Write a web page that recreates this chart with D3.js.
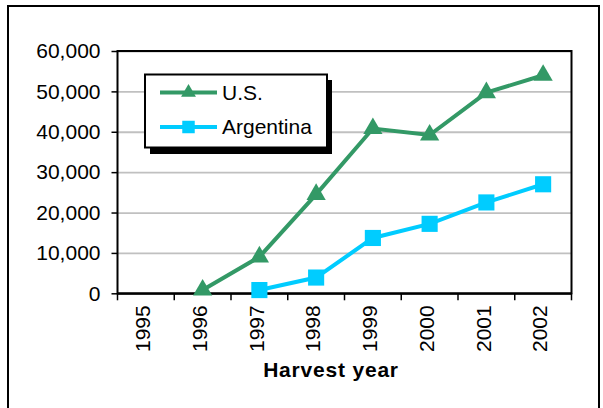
<!DOCTYPE html>
<html>
<head>
<meta charset="utf-8">
<script src="https://cdn.jsdelivr.net/npm/d3@7"></script>
<style>
  body { margin: 0; background: #fff; }
  text { font-family: "Liberation Sans", Arial, sans-serif; }
</style>
</head>
<body>
<div id="chart"></div>
<script>
const years = ["1995", "1996", "1997", "1998", "1999", "2000", "2001", "2002"];
const usValues = [null, 800, 9000, 24500, 40800, 39200, 49700, 54000];
const argentinaValues = [null, null, 800, 3900, 13700, 17200, 22500, 27000];
const seriesNames = ["U.S.", "Argentina"];
const yTicks = [0, 10000, 20000, 30000, 40000, 50000, 60000];

(function() {
  const W = 603, H = 408;
  const plot = { left: 117.5, right: 571.5, top: 51, bottom: 293.3 };
  const colors = { "U.S.": "#339966", "Argentina": "#00ccff" };
  const symbols = { "U.S.": d3.symbolTriangle, "Argentina": d3.symbolSquare };
  const symSize = { "U.S.": 160, "Argentina": 260 };
  const fs = 21;

  const svg = d3.select("#chart").append("svg")
    .attr("width", W)
    .attr("height", H);

  // outer frame
  svg.append("rect")
    .attr("x", 8).attr("y", 6)
    .attr("width", 591).attr("height", 420)
    .attr("fill", "none")
    .attr("stroke", "#000")
    .attr("stroke-width", 2);

  const x = d3.scaleBand().domain(years).range([plot.left, plot.right]).padding(0);
  const y = d3.scaleLinear().domain([0, 60000]).range([plot.bottom, plot.top]);

  // gridlines
  svg.append("g")
    .attr("class", "grid")
    .attr("transform", `translate(${plot.left},0)`)
    .call(d3.axisLeft(y).tickValues(yTicks).tickSize(-(plot.right - plot.left)).tickFormat(""))
    .call(g => g.select(".domain").remove())
    .call(g => g.selectAll("line").attr("stroke", "#c0c0c0").attr("stroke-width", 1.8));

  // plot border
  svg.append("rect")
    .attr("x", plot.left).attr("y", plot.top)
    .attr("width", plot.right - plot.left)
    .attr("height", plot.bottom - plot.top)
    .attr("fill", "none")
    .attr("stroke", "#000")
    .attr("stroke-width", 2);

  // y axis
  svg.append("g")
    .attr("transform", `translate(${plot.left},0)`)
    .call(d3.axisLeft(y).tickValues(yTicks).tickSize(6).tickPadding(11).tickFormat(d3.format(",")))
    .call(g => g.select(".domain").remove())
    .call(g => g.selectAll("line").attr("stroke", "#000").attr("stroke-width", 1.5))
    .call(g => g.selectAll("text").attr("font-size", fs).attr("fill", "#000")
      .attr("font-family", "'Liberation Sans', Arial, sans-serif"));

  // x axis labels
  const xAxis = svg.append("g")
    .attr("transform", `translate(0,${plot.bottom})`)
    .call(d3.axisBottom(x).tickSize(0).tickPadding(0))
    .call(g => g.select(".domain").attr("stroke", "#000").attr("stroke-width", 2));
  xAxis.selectAll(".tick text")
    .attr("font-size", fs)
    .attr("fill", "#000")
    .attr("font-family", "'Liberation Sans', Arial, sans-serif")
    .attr("text-anchor", "end")
    .attr("transform", "translate(-3,12) rotate(-90)")
    .attr("x", 0).attr("y", 0)
    .attr("dy", "0.35em");

  // boundary tick marks between categories
  const bounds = years.map(d => x(d)).concat([x.range()[1]]);
  svg.append("g").selectAll("line")
    .data(bounds)
    .join("line")
      .attr("x1", d => d).attr("x2", d => d)
      .attr("y1", plot.bottom).attr("y2", plot.bottom + 7)
      .attr("stroke", "#000")
      .attr("stroke-width", 1.5);

  // axis title
  svg.append("text")
    .attr("x", 331)
    .attr("y", 377)
    .attr("text-anchor", "middle")
    .attr("font-size", fs)
    .attr("font-weight", "bold")
    .attr("letter-spacing", "0.8px")
    .text("Harvest year");

  const series = [
    { name: "U.S.", values: usValues },
    { name: "Argentina", values: argentinaValues }
  ];

  const line = d3.line()
    .defined(d => d.v !== null)
    .x(d => x(d.year) + x.bandwidth() / 2)
    .y(d => y(d.v));

  series.forEach(s => {
    const pts = years.map((yr, i) => ({ year: yr, v: s.values[i] }));
    svg.append("path")
      .datum(pts)
      .attr("fill", "none")
      .attr("stroke", colors[s.name])
      .attr("stroke-width", 4)
      .attr("d", line);
    svg.append("g").selectAll("path")
      .data(pts.filter(d => d.v !== null))
      .join("path")
        .attr("transform", d => `translate(${x(d.year) + x.bandwidth() / 2},${y(d.v)})`)
        .attr("d", d3.symbol().type(symbols[s.name]).size(symSize[s.name]))
        .attr("fill", colors[s.name]);
  });

  // legend
  const lg = svg.append("g");
  lg.append("rect")
    .attr("x", 150).attr("y", 80)
    .attr("width", 182).attr("height", 74)
    .attr("fill", "#000");
  lg.append("rect")
    .attr("x", 145).attr("y", 74.5)
    .attr("width", 182).attr("height", 73)
    .attr("fill", "#fff")
    .attr("stroke", "#000")
    .attr("stroke-width", 2);

  const items = lg.selectAll("g.item")
    .data(seriesNames)
    .join("g")
      .attr("class", "item")
      .attr("transform", (d, i) => `translate(0,${92.5 + i * 34.5})`);
  items.append("line")
    .attr("x1", 160).attr("x2", 217)
    .attr("stroke", d => colors[d])
    .attr("stroke-width", 4);
  items.append("path")
    .attr("transform", "translate(188.5,0)")
    .attr("d", d => d3.symbol().type(symbols[d]).size(symSize[d] * 0.6)())
    .attr("fill", d => colors[d]);
  items.append("text")
    .attr("x", 222)
    .attr("y", 7)
    .attr("font-size", fs)
    .attr("fill", "#000")
    .text(d => d);
})();
</script>
</body>
</html>
